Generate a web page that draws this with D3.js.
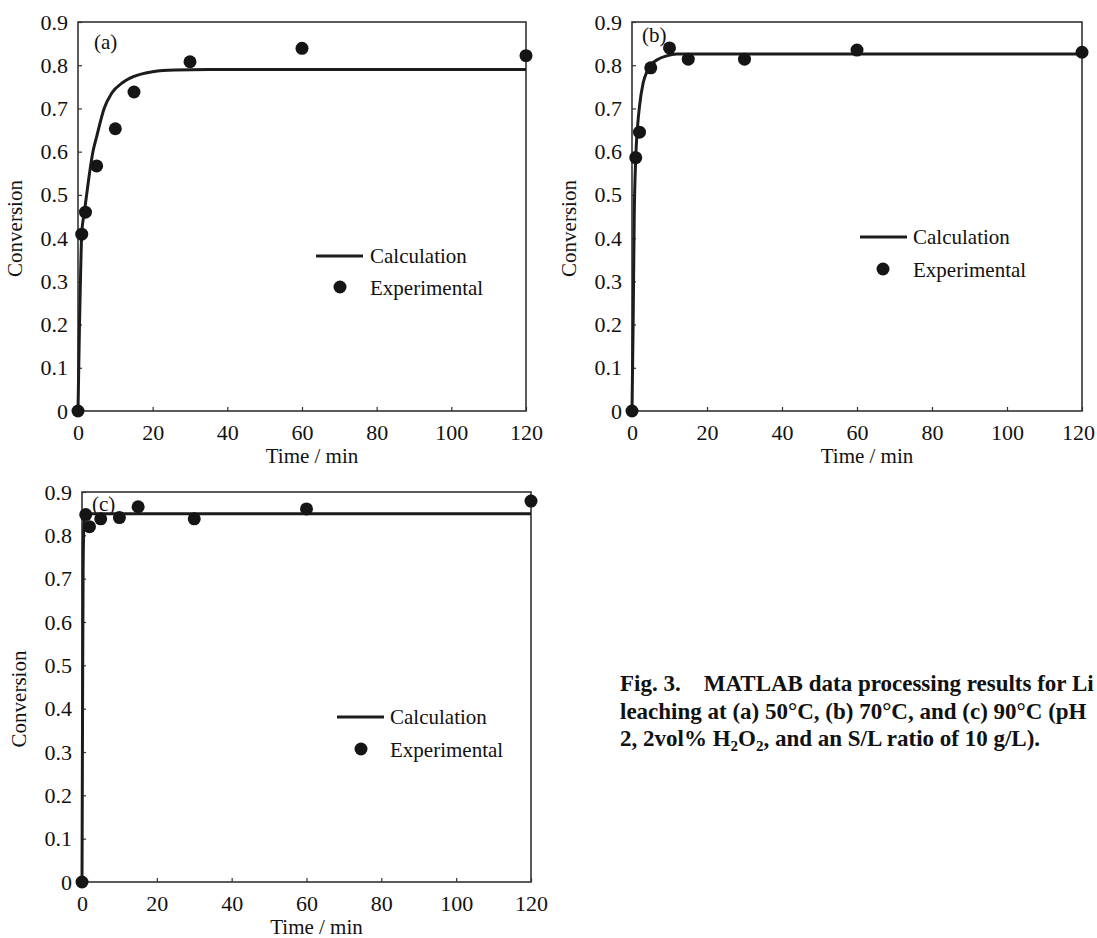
<!DOCTYPE html>
<html lang="en">
<head>
  <meta charset="UTF-8">
  <title>Li leaching kinetics</title>
  <style>
    body { margin: 0; padding: 0; background: #fff; }
    svg { display: block; }
    text { font-family: "Liberation Serif", "Times New Roman", serif; fill: #111; }
  </style>
</head>
<body>
<svg width="1097" height="938"></svg>
<script src="https://d3js.org/d3.v7.min.js"></script>
<script>
// experimental sampling times (min)
const expTime = [0, 1, 2, 5, 10, 15, 30, 60, 120];
const expA = [0, 0.409, 0.460, 0.567, 0.653, 0.738, 0.808, 0.839, 0.822];
const expB = [0, 0.586, 0.645, 0.794, 0.840, 0.814, 0.814, 0.835, 0.830];
const expC = [0, 0.848, 0.820, 0.838, 0.841, 0.866, 0.838, 0.861, 0.879];

// model curves
const calcTimeA = [0, 0.2, 0.4, 0.7, 1, 1.5, 2, 3, 4, 5, 7, 9, 12, 15, 20, 26, 35, 60, 120];
const calcA = [0, 0.10, 0.20, 0.32, 0.41, 0.45, 0.48, 0.545, 0.60, 0.635, 0.70, 0.735, 0.76, 0.774, 0.785, 0.789, 0.79, 0.79, 0.79];
const calcTimeB = [0, 0.3, 0.6, 1, 1.5, 2, 3, 4, 5, 7, 9, 12, 20, 60, 120];
const calcB = [0, 0.20, 0.45, 0.586, 0.66, 0.705, 0.76, 0.785, 0.80, 0.814, 0.821, 0.826, 0.826, 0.826, 0.826];
const calcTimeC = [0, 0.15, 0.3, 0.5, 0.8, 1.5, 120];
const calcC = [0, 0.40, 0.72, 0.82, 0.845, 0.85, 0.85];

const xTicks = [0, 20, 40, 60, 80, 100, 120];
const yTicks = [0, 0.1, 0.2, 0.3, 0.4, 0.5, 0.6, 0.7, 0.8, 0.9];
const legendLabels = ["Calculation", "Experimental"];

const panels = [
  {tag: "(a)", exp: expA, ct: calcTimeA, calc: calcA, lastDx: 0,
   box: [78, 526, 22, 411], tagPos: [94, 42], leg: [316, 363, 256, 340, 287, 370]},
  {tag: "(b)", exp: expB, ct: calcTimeB, calc: calcB, lastDx: -4,
   box: [632, 1082, 22, 411], tagPos: [642, 35], leg: [860, 907, 237, 883, 269, 913]},
  {tag: "(c)", exp: expC, ct: calcTimeC, calc: calcC, lastDx: 0,
   box: [82, 531, 492, 882], tagPos: [92, 504], leg: [337, 384, 717, 361, 749, 390]}
];

const svg = d3.select("svg");
const ink = "#151515";

panels.forEach(p => {
  const [l, r, t, b] = p.box;
  const x = d3.scaleLinear().domain([0, 120]).range([l, r]);
  const y = d3.scaleLinear().domain([0, 0.9]).range([b, t]);
  const g = svg.append("g");

  // axes, ticks pointing inward
  const xa = g.append("g").attr("transform", `translate(0,${b})`)
    .call(d3.axisBottom(x).tickValues(xTicks).tickSize(-4).tickPadding(13).tickFormat(d3.format("d")));
  const ya = g.append("g").attr("transform", `translate(${l},0)`)
    .call(d3.axisLeft(y).tickValues(yTicks).tickSize(-4).tickPadding(10).tickFormat(d => d === 0 ? "0" : d3.format(".1f")(d)));
  [xa, ya].forEach(a => {
    a.attr("font-family", null).attr("font-size", null);
    a.select(".domain").remove();
    a.selectAll("line").attr("stroke", "#333").attr("stroke-width", 1.2);
    a.selectAll("text").attr("font-size", 22).attr("fill", ink);
  });
  xa.selectAll("text").filter(d => d === 120).attr("dx", p.lastDx);

  g.append("rect").attr("x", l).attr("y", t).attr("width", r - l).attr("height", b - t)
    .attr("fill", "none").attr("stroke", "#333").attr("stroke-width", 1.6);

  g.append("text").attr("x", (l + r) / 2 + 10).attr("y", b + 52)
    .attr("text-anchor", "middle").attr("font-size", 21).text("Time / min");
  g.append("text").attr("transform", `translate(${l - 56},${(t + b) / 2 + 12}) rotate(-90)`)
    .attr("text-anchor", "middle").attr("font-size", 21).text("Conversion");

  g.append("text").attr("x", p.tagPos[0]).attr("y", p.tagPos[1]).attr("dy", "0.35em")
    .attr("font-size", 21).text(p.tag);

  // model curve
  const line = d3.line().x(d => x(d[0])).y(d => y(d[1])).curve(d3.curveMonotoneX);
  g.append("path").datum(d3.zip(p.ct, p.calc)).attr("d", line)
    .attr("fill", "none").attr("stroke", "#1c1c1c").attr("stroke-width", 3);

  // experimental points
  g.selectAll("circle.pt").data(d3.zip(expTime, p.exp)).join("circle")
    .attr("class", "pt").attr("cx", d => x(d[0])).attr("cy", d => y(d[1]))
    .attr("r", 6.5).attr("fill", ink);

  // legend
  const [lx1, lx2, ly, dx, dy, tx] = p.leg;
  g.append("line").attr("x1", lx1).attr("x2", lx2).attr("y1", ly).attr("y2", ly)
    .attr("stroke", "#1c1c1c").attr("stroke-width", 3);
  g.append("text").attr("x", tx).attr("y", ly).attr("dy", "0.33em").attr("font-size", 21).text(legendLabels[0]);
  g.append("circle").attr("cx", dx).attr("cy", dy).attr("r", 6.5).attr("fill", ink);
  g.append("text").attr("x", tx).attr("y", dy + 1).attr("dy", "0.33em").attr("font-size", 21).text(legendLabels[1]);
});

// caption
const cap = svg.append("g").attr("font-weight", "bold").attr("font-size", 23);
cap.append("text").attr("x", 620).attr("y", 691).attr("xml:space", "preserve")
  .text("Fig. 3.    MATLAB data processing results for Li");
cap.append("text").attr("x", 620).attr("y", 719)
  .text("leaching at (a) 50°C, (b) 70°C, and (c) 90°C (pH");
const l3 = cap.append("text").attr("x", 620).attr("y", 746);
l3.append("tspan").text("2, 2vol% H");
l3.append("tspan").attr("font-size", 15).attr("dy", 5).text("2");
l3.append("tspan").attr("dy", -5).text("O");
l3.append("tspan").attr("font-size", 15).attr("dy", 5).text("2");
l3.append("tspan").attr("dy", -5).text(", and an S/L ratio of 10 g/L).");
</script>
</body>
</html>
